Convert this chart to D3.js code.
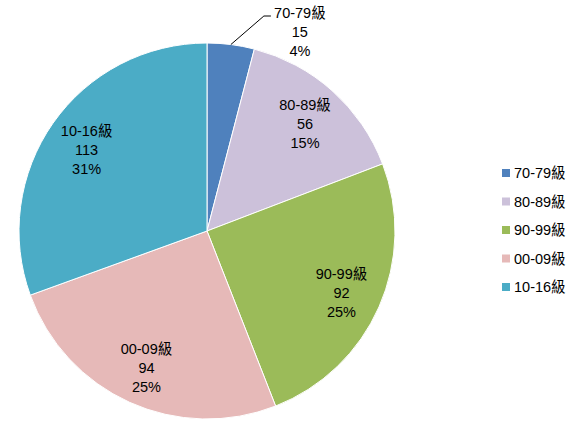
<!DOCTYPE html>
<html><head><meta charset="utf-8">
<script src="https://cdn.jsdelivr.net/npm/d3@7"></script>
<style>body{margin:0;background:#fff;} text{font-family:"Liberation Sans","Noto Sans CJK TC",sans-serif;font-size:14.5px;fill:#000;}</style>
</head><body>
<svg id="c" width="573" height="437"></svg>
<script>
const categories = ["70-79級","80-89級","90-99級","00-09級","10-16級"];
const values = [15,56,92,94,113];
const percents = ["4%","15%","25%","25%","31%"];
const colors = ["#4F81BD","#CCC1DA","#9BBB59","#E6B9B8","#4BACC6"];

const svg = d3.select("#c");
const cx = 207, cy = 231, R = 188;
const g = svg.append("g").attr("transform",`translate(${cx},${cy})`);
const pie = d3.pie().sort(null).value(d=>d.v);
const data = categories.map((c,i)=>({c, v:values[i], p:percents[i], col:colors[i]}));
const arcs = pie(data);
const arc = d3.arc().innerRadius(0).outerRadius(R);
g.selectAll("path").data(arcs).enter().append("path")
  .attr("d",arc).attr("fill",d=>d.data.col).attr("stroke","#fff").attr("stroke-width",1);

const lab = d3.arc().innerRadius(147).outerRadius(147);
const lh = 19;
arcs.forEach((a,i)=>{
  let x,y;
  if(i===0){
    const mid=(a.startAngle+a.endAngle)/2;
    const p0=[Math.sin(mid)*R, -Math.cos(mid)*R];
    const p1=[p0[0]+33, -215];
    const p2=[p1[0]+7, -215];
    g.append("polyline").attr("points",[p0,p1,p2].map(p=>p.join(",")).join(" "))
      .attr("fill","none").attr("stroke","#000").attr("stroke-width",1);
    x=p2[0]+29; y=-199;
  } else {
    const c=lab.centroid(a); x=c[0]; y=c[1]+3;
  }
  const t=g.append("text").attr("text-anchor","middle").attr("x",x).attr("y",y);
  [a.data.c, String(a.data.v), a.data.p].forEach((s,k)=>{
    t.append("tspan").attr("x",x).attr("y",y+(k-1)*lh+5).text(s);
  });
});

const leg = svg.append("g").attr("transform","translate(502,173)");
data.forEach((d,i)=>{
  const r=leg.append("g").attr("transform",`translate(0,${i*28.5})`);
  r.append("rect").attr("x",0).attr("y",-4).attr("width",8).attr("height",8).attr("fill",d.col);
  r.append("text").attr("x",12).attr("y",5).text(d.c);
});
</script>
</body></html>
